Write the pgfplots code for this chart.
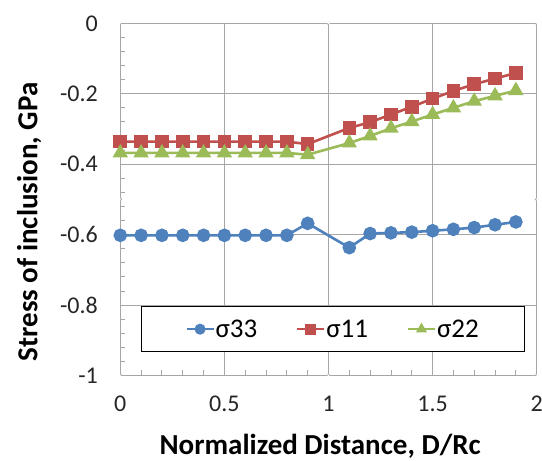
\documentclass[border=0pt]{standalone}
\usepackage{fontspec}
\setmainfont{Carlito}
\usepackage{pgfplots}
\pgfplotsset{compat=1.18}

\definecolor{s33}{HTML}{4F81BD}
\definecolor{s11}{HTML}{C0504D}
\definecolor{s22}{HTML}{9BBB59}
\definecolor{gridgray}{HTML}{A6A6A6}

\tikzset{handle/.style={gridgray, fill=white, line width=0.5pt}}

\begin{document}
\begin{tikzpicture}
\path[use as bounding box] (-120.3pt,-85.5pt) rectangle (421.7pt,375.5pt);
\begin{axis}[
    at={(0pt,0pt)}, anchor=south west,
    scale only axis,
    width=416.4pt, height=352.2pt,
    xmin=0, xmax=2, ymin=-1, ymax=0,
    xtick={0,0.5,1,1.5,2},
    xticklabels={0,0.5,1,1.5,2},
    ytick={-1,-0.8,-0.6,-0.4,-0.2,0},
    yticklabels={-1,-0.8,-0.6,-0.4,-0.2,0},
    minor x tick num=4,
    minor y tick num=4,
    tick pos=left,
    tick align=inside,
    major tick length=0pt,
    minor tick length=5pt,
    every tick/.style={gridgray, line width=0.9pt},
    grid=major,
    grid style={gridgray, line width=0.9pt},
    axis line style={gridgray, line width=0.9pt},
    tick label style={font=\fontsize{24}{26}\selectfont, text=black!85},
    xticklabel style={yshift=-17pt},
    yticklabel style={xshift=-19pt},
    xlabel={Normalized Distance, D/Rc},
    ylabel={Stress of inclusion, GPa},
    every axis x label/.style={at={(axis description cs:0.48,-0.2)}, anchor=center,
        font=\fontsize{29}{32}\selectfont\bfseries},
    every axis y label/.style={at={(axis description cs:-0.219,0.436)}, anchor=center,
        rotate=90, font=\fontsize{29}{32}\selectfont\bfseries},
    every axis plot/.append style={line width=2.6pt},
    legend columns=3,
    legend style={draw=none, fill=none, at={(axis description cs:0.51,0.1315)}, anchor=center,
        font=\fontsize{27}{29}\selectfont,
        nodes={inner xsep=1pt, inner ysep=0pt},
        /tikz/every even column/.append style={column sep=38pt}},
    legend image code/.code={%
        \draw[mark repeat=2,mark phase=2,#1,line width=2pt,mark size=4.5pt]
            plot coordinates {(0pt,0pt) (13.5pt,0pt) (27pt,0pt)};},
]
\addplot[s33, mark=*, mark size=5.5pt, mark options={fill=s33, draw=s33}] coordinates {
    (0,-0.602) (0.1,-0.602) (0.2,-0.602) (0.3,-0.602) (0.4,-0.602)
    (0.5,-0.602) (0.6,-0.602) (0.7,-0.602) (0.8,-0.602) (0.9,-0.568)
    (1.1,-0.637) (1.2,-0.597) (1.3,-0.595) (1.4,-0.593) (1.5,-0.589)
    (1.6,-0.585) (1.7,-0.580) (1.8,-0.572) (1.9,-0.564)
};
\addplot[s11, mark=square*, mark size=5.5pt, mark options={fill=s11, draw=s11}] coordinates {
    (0,-0.336) (0.1,-0.336) (0.2,-0.336) (0.3,-0.336) (0.4,-0.336)
    (0.5,-0.336) (0.6,-0.336) (0.7,-0.336) (0.8,-0.336) (0.9,-0.343)
    (1.1,-0.297) (1.2,-0.281) (1.3,-0.259) (1.4,-0.237) (1.5,-0.214)
    (1.6,-0.192) (1.7,-0.173) (1.8,-0.157) (1.9,-0.141)
};
\addplot[s22, mark=triangle*, mark size=6.3pt, mark options={fill=s22, draw=s22}] coordinates {
    (0,-0.368) (0.1,-0.368) (0.2,-0.368) (0.3,-0.368) (0.4,-0.368)
    (0.5,-0.368) (0.6,-0.368) (0.7,-0.368) (0.8,-0.368) (0.9,-0.373)
    (1.1,-0.340) (1.2,-0.320) (1.3,-0.298) (1.4,-0.279) (1.5,-0.259)
    (1.6,-0.240) (1.7,-0.221) (1.8,-0.206) (1.9,-0.191)
};
\draw[black, line width=1pt, fill=white]
    (axis description cs:0.051,0.068) rectangle (axis description cs:0.97,0.195);
\draw[handle] (axis description cs:0,0) circle (1.6pt);
\draw[handle] (axis description cs:0.5,0) circle (1.6pt);
\draw[handle] (axis description cs:1,0) circle (1.6pt);
\draw[handle] (axis description cs:1,0.5) circle (1.6pt);
\draw[handle] (axis description cs:1,1) circle (1.6pt);
\draw[handle] (axis description cs:0.5,1) circle (1.6pt);
\draw[handle] (axis description cs:0,1) circle (1.6pt);
\draw[handle] (axis description cs:0,0.5) circle (1.6pt);
\legend{σ33, σ11, σ22}
\end{axis}
\end{tikzpicture}
\end{document}
